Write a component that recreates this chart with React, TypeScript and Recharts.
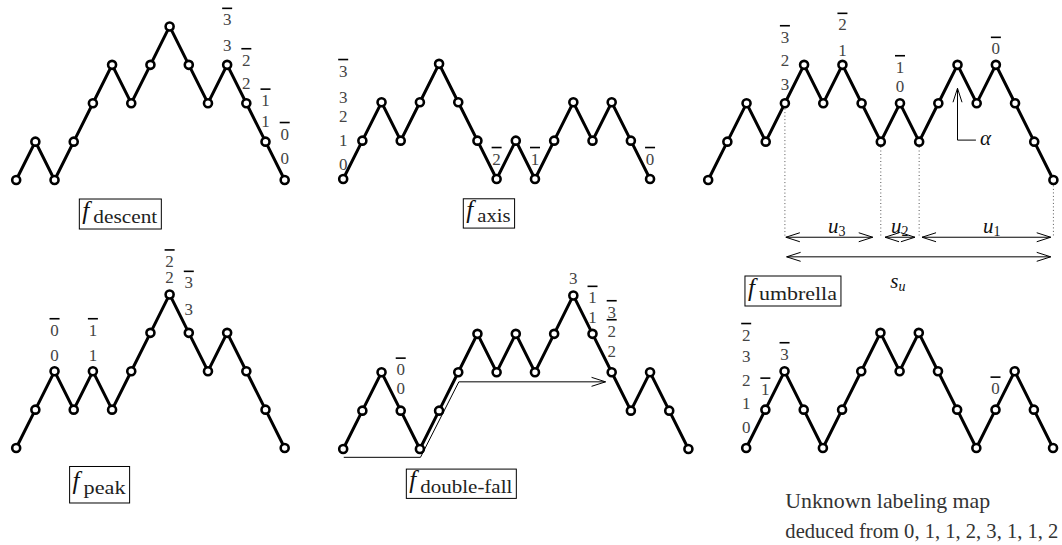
import React from 'react';
import { LineChart, Line, XAxis, YAxis, ReferenceDot, ReferenceLine } from 'recharts';

// heights of every vertex of each Dyck path
const descentHeights = [0, 1, 0, 1, 2, 3, 2, 3, 4, 3, 2, 3, 2, 1, 0];
const axisHeights = [0, 1, 2, 1, 2, 3, 2, 1, 0, 1, 0, 1, 2, 1, 2, 1, 0];
const umbrellaHeights = [0, 1, 2, 1, 2, 3, 2, 3, 2, 1, 2, 1, 2, 3, 2, 3, 2, 1, 0];
const peakHeights = [0, 1, 2, 1, 2, 1, 2, 3, 4, 3, 2, 3, 2, 1, 0];
const doubleFallHeights = [0, 1, 2, 1, 0, 1, 2, 3, 2, 3, 2, 3, 4, 3, 2, 1, 2, 1, 0];
const unknownHeights = [0, 1, 2, 1, 0, 1, 2, 3, 2, 3, 2, 1, 0, 1, 2, 1, 0];

// [vertex, px above vertex, digit, overlined]
type Mark = [number, number, string, boolean];
const descentLabels: Mark[] = [
  [11, 19, '3', false], [11, 45, '3', true],
  [12, 20, '2', false], [12, 43, '2', true],
  [13, 20, '1', false], [13, 41, '1', true],
  [14, 22, '0', false], [14, 46, '0', true],
];
const axisLabels: Mark[] = [
  [0, 15, '0', false], [0, 39, '1', false], [0, 63, '2', false], [0, 82, '3', false], [0, 108, '3', true],
  [8, 20, '2', true], [10, 20, '1', true], [16, 20, '0', true],
];
const umbrellaLabels: Mark[] = [
  [4, 19, '3', false], [4, 43, '2', false], [4, 66, '3', true],
  [7, 14, '1', false], [7, 40, '2', true],
  [10, 17, '0', false], [10, 36, '1', true],
  [15, 16, '0', true],
];
const peakLabels: Mark[] = [
  [2, 16, '0', false], [2, 41, '0', true],
  [4, 16, '1', false], [4, 41, '1', true],
  [8, 17, '2', false], [8, 33, '2', true],
  [9, 23, '3', false], [9, 50, '3', true],
];
const doubleFallLabels: Mark[] = [
  [3, 22, '0', false], [3, 41, '0', true],
  [12, 17, '3', false],
  [13, 16, '1', false], [13, 36, '1', true],
  [14, 21, '2', false], [14, 41, '2', true], [14, 60, '3', true],
];
const unknownLabels: Mark[] = [
  [0, 21, '0', false], [0, 45, '1', false], [0, 68, '2', false], [0, 92, '3', false], [0, 113, '2', true],
  [1, 20, '1', true], [2, 17, '3', true], [13, 21, '0', true],
];

// umbrella decomposition: vertices with drop lines, and spans [from, to, name, index]
const umbrellaDrops = [4, 9, 11, 18];
const umbrellaSpans: [number, number, string, string][] = [
  [4.05, 8.58, 'u', '3'],
  [9.22, 10.78, 'u', '2'],
  [11.15, 17.86, 'u', '1'],
];

const SERIF = '"Liberation Serif", "DejaVu Serif", serif';
const DX = 19.18;
const DY = 38.4;
const PADX = 1;
const YTOP = 5.6;
const YBOT = -3.6;

const Digit = ({ cx, cy, up, text, bar }: any) => {
  const y = cy - up;
  return (
    <g>
      <text x={cx} y={y} textAnchor="middle" dominantBaseline="central" fontFamily={SERIF} fontSize={17} fill="#444">
        {text}
      </text>
      {bar && <line x1={cx - 5} x2={cx + 5} y1={y - 11.5} y2={y - 11.5} stroke="#000" strokeWidth={1.6} />}
    </g>
  );
};

const CaptionBox = ({ cx, cy, w, h, sub }: any) => {
  const left = cx - w / 2;
  const top = cy - h / 2;
  return (
    <g>
      <rect x={left} y={top} width={w} height={h} fill="none" stroke="#000" strokeWidth={1} />
      <text x={left + 3} y={cy + 4.5} fontFamily={SERIF} fontStyle="italic" fontSize={25} fill="#111">f</text>
      <text x={left + 14} y={cy + 9} fontFamily={SERIF} fontSize={19} fill="#222" textLength={w - 18} lengthAdjust="spacingAndGlyphs">
        {sub}
      </text>
    </g>
  );
};

const arrow = (startHead: boolean, endHead: boolean) => (p: any) => {
  const { x1, y1, x2, y2 } = p;
  const len = Math.hypot(x2 - x1, y2 - y1) || 1;
  const ux = (x2 - x1) / len;
  const uy = (y2 - y1) / len;
  const L = 14;
  const W = 4.5;
  const head = (tx: number, ty: number, dx: number, dy: number) =>
    `M${tx - dx * L - dy * W},${ty - dy * L + dx * W} L${tx},${ty} L${tx - dx * L + dy * W},${ty - dy * L - dx * W}`;
  return (
    <g fill="none" stroke="#000" strokeWidth={1}>
      <line x1={x1} y1={y1} x2={x2} y2={y2} />
      {startHead && <path d={head(x1, y1, -ux, -uy)} />}
      {endHead && <path d={head(x2, y2, ux, uy)} />}
    </g>
  );
};

const MathLabel = ({ cx, cy, main, sub, subItalic, anchor = 'middle' }: any) => (
  <text x={cx} y={cy} textAnchor={anchor} fontFamily={SERIF} fill="#111">
    <tspan fontStyle="italic" fontSize={21}>{main}</tspan>
    {sub && (
      <tspan fontStyle={subItalic ? 'italic' : 'normal'} fontSize={14} dy={3}>{sub}</tspan>
    )}
  </text>
);

type Caption = { x: number; y: number; w: number; h: number; sub: string };

const PathPanel = ({
  heights,
  origin,
  labels,
  caption,
  children,
}: {
  heights: number[];
  origin: [number, number];
  labels: Mark[];
  caption?: Caption;
  children?: React.ReactNode;
}) => {
  const data = heights.map((h, i) => ({ i, h }));
  const steps = heights.length - 1;
  const width = (steps + 2 * PADX) * DX;
  const height = (YTOP - YBOT) * DY;
  return (
    <div style={{ position: 'absolute', left: origin[0] - PADX * DX, top: origin[1] - YTOP * DY }}>
      <LineChart width={width} height={height} data={data} margin={{ top: 0, right: 0, bottom: 0, left: 0 }}>
        <XAxis type="number" dataKey="i" domain={[-PADX, steps + PADX]} hide allowDataOverflow />
        <YAxis type="number" domain={[YBOT, YTOP]} hide allowDataOverflow />
        {children}
        <Line
          dataKey="h"
          type="linear"
          stroke="#000"
          strokeWidth={3}
          dot={{ r: 4, fill: '#fff', stroke: '#000', strokeWidth: 2.6 }}
          activeDot={false}
          isAnimationActive={false}
        />
        {labels.map(([i, up, text, bar], k) => (
          <ReferenceDot
            key={`lab-${k}`}
            x={i}
            y={heights[i]}
            r={0}
            shape={(p: any) => <Digit cx={p.cx} cy={p.cy} up={up} text={text} bar={bar} />}
          />
        ))}
        {caption && (
          <ReferenceDot
            x={caption.x}
            y={caption.y}
            r={0}
            shape={(p: any) => <CaptionBox cx={p.cx} cy={p.cy} w={caption.w} h={caption.h} sub={caption.sub} />}
          />
        )}
      </LineChart>
    </div>
  );
};

const App = () => {
  const uLevel = -1.49;
  const sLevel = -2.0;
  return (
    <div style={{ position: 'absolute', left: 0, top: 0, width: 1062, height: 545, overflow: 'hidden', background: '#fff' }}>
      <PathPanel
        heights={descentHeights}
        origin={[16, 180]}
        labels={descentLabels}
        caption={{ x: 5.43, y: -0.885, w: 82, h: 30, sub: 'descent' }}
      />
      <PathPanel
        heights={axisHeights}
        origin={[342.7, 179.3]}
        labels={axisLabels}
        caption={{ x: 7.6, y: -0.896, w: 51.3, h: 29.3, sub: 'axis' }}
      />
      <PathPanel
        heights={umbrellaHeights}
        origin={[708.3, 180]}
        labels={umbrellaLabels}
        caption={{ x: 4.42, y: -2.89, w: 96, h: 30, sub: 'umbrella' }}
      >
        {umbrellaDrops.map((i) => (
          <ReferenceLine
            key={`drop-${i}`}
            segment={[{ x: i, y: umbrellaHeights[i] - 0.14 }, { x: i, y: uLevel }]}
            stroke="#555"
            strokeWidth={1}
            strokeDasharray="1 2.5"
          />
        ))}
        {umbrellaSpans.map(([a, b], k) => (
          <ReferenceLine key={`span-${k}`} segment={[{ x: a, y: uLevel }, { x: b, y: uLevel }]} shape={arrow(true, true)} />
        ))}
        <ReferenceLine segment={[{ x: 4.09, y: sLevel }, { x: 17.86, y: sLevel }]} shape={arrow(true, true)} />
        {umbrellaSpans.map(([a, b, name, idx], k) => (
          <ReferenceDot
            key={`spanlab-${k}`}
            x={[6.71, 9.99, 14.78][k]}
            y={-1.39}
            r={0}
            shape={(p: any) => <MathLabel cx={p.cx} cy={p.cy} main={name} sub={idx} />}
          />
        ))}
        <ReferenceDot x={9.89} y={-2.81} r={0} shape={(p: any) => <MathLabel cx={p.cx} cy={p.cy} main="s" sub="u" subItalic />} />
        <ReferenceLine segment={[{ x: 13, y: 1.04 }, { x: 13, y: 2.39 }]} shape={arrow(false, true)} />
        <ReferenceLine segment={[{ x: 13, y: 1.04 }, { x: 13.96, y: 1.04 }]} stroke="#000" strokeWidth={1} />
        <ReferenceDot x={14.17} y={0.91} r={0} shape={(p: any) => <MathLabel cx={p.cx} cy={p.cy} main="α" anchor="start" />} />
      </PathPanel>
      <PathPanel
        heights={peakHeights}
        origin={[16, 448.3]}
        labels={peakLabels}
        caption={{ x: 4.35, y: -0.956, w: 60, h: 36.5, sub: 'peak' }}
      />
      <PathPanel
        heights={doubleFallHeights}
        origin={[342.7, 449]}
        labels={doubleFallLabels}
        caption={{ x: 6.16, y: -0.904, w: 110, h: 29.3, sub: 'double-fall' }}
      >
        <ReferenceLine segment={[{ x: 0.03, y: -0.216 }, { x: 4.03, y: -0.216 }]} stroke="#000" strokeWidth={1} />
        <ReferenceLine segment={[{ x: 4.03, y: -0.216 }, { x: 6.03, y: 1.75 }]} stroke="#000" strokeWidth={1} />
        <ReferenceLine segment={[{ x: 6.03, y: 1.75 }, { x: 13.68, y: 1.75 }]} shape={arrow(false, true)} />
      </PathPanel>
      <PathPanel heights={unknownHeights} origin={[746, 448.3]} labels={unknownLabels}>
        <ReferenceDot
          x={7.38}
          y={-1.39}
          r={0}
          shape={(p: any) => (
            <text x={p.cx} y={p.cy} textAnchor="middle" dominantBaseline="central" fontFamily={SERIF} fontSize={20} fill="#333" textLength={205} lengthAdjust="spacingAndGlyphs">
              Unknown labeling map
            </text>
          )}
        />
        <ReferenceDot
          x={9.16}
          y={-2.17}
          r={0}
          shape={(p: any) => (
            <text x={p.cx} y={p.cy} textAnchor="middle" dominantBaseline="central" fontFamily={SERIF} fontSize={20} fill="#333" textLength={273} lengthAdjust="spacingAndGlyphs">
              deduced from 0, 1, 1, 2, 3, 1, 1, 2
            </text>
          )}
        />
      </PathPanel>
    </div>
  );
};

export default App;
